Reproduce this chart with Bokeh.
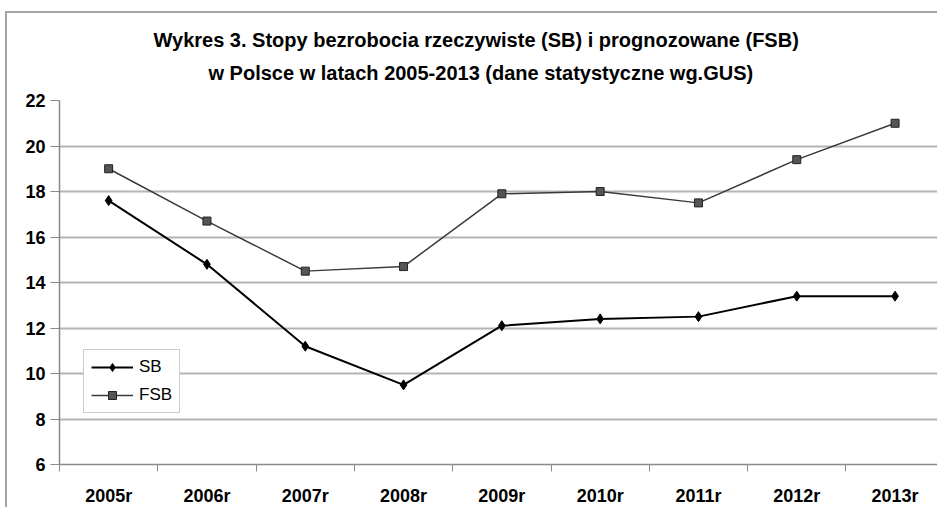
from bokeh.plotting import figure
from bokeh.models import Range1d, FixedTicker, Title, Legend, LegendItem
from bokeh.embed import file_html
from bokeh.resources import INLINE

years = ["2005r", "2006r", "2007r", "2008r", "2009r", "2010r", "2011r", "2012r", "2013r"]
sb = [17.6, 14.8, 11.2, 9.5, 12.1, 12.4, 12.5, 13.4, 13.4]
fsb = [19.0, 16.7, 14.5, 14.7, 17.9, 18.0, 17.5, 19.4, 21.0]
y_ticks = [6, 8, 10, 12, 14, 16, 18, 20, 22]

title1 = "Wykres 3. Stopy bezrobocia rzeczywiste (SB) i prognozowane (FSB)"
title2 = "w Polsce w latach 2005-2013 (dane statystyczne wg.GUS)"

xs = [i + 0.5 for i in range(len(years))]
bounds = list(range(len(years) + 1))

FONT = "Liberation Sans"

p = figure(width=932, height=496, output_backend="svg", toolbar_location=None,
           title=None,
           x_range=Range1d(0, 8.952), y_range=Range1d(6, 22),
           min_border_left=52, min_border_right=0, min_border_top=87, min_border_bottom=45,
           border_fill_color="white", background_fill_color="white",
           outline_line_color=None,
           styles={"margin-left": "5px", "margin-top": "11px",
                   "border-left": "2px solid #a4a4a4",
                   "border-top": "2px solid #a4a4a4"})

# titles (first added is closest to the frame)
t2 = Title(text=title2, align="left", offset=149, text_font=FONT, text_font_size="20px",
           text_font_style="bold", text_color="black", standoff=33)
t1 = Title(text=title1, align="left", offset=94, text_font=FONT, text_font_size="20px",
           text_font_style="bold", text_color="black", standoff=-14)
p.add_layout(t2, "above")
p.add_layout(t1, "above")

# grid
p.xgrid.grid_line_color = None
p.ygrid.ticker = FixedTicker(ticks=y_ticks)
p.ygrid.grid_line_color = "#b4b4b4"
p.ygrid.grid_line_width = 2

# y axis
p.yaxis.ticker = FixedTicker(ticks=y_ticks)
p.yaxis.axis_line_color = "#8a8a8a"
p.yaxis.axis_line_width = 1.5
p.yaxis.major_tick_line_color = "#8a8a8a"
p.yaxis.major_tick_out = 9
p.yaxis.major_tick_in = 0
p.yaxis.minor_tick_line_color = None
p.yaxis.major_label_standoff = 5
p.yaxis.major_label_text_font = FONT
p.yaxis.major_label_text_font_size = "18px"
p.yaxis.major_label_text_font_style = "bold"
p.yaxis.major_label_text_color = "black"

# x axis
p.xaxis.ticker = FixedTicker(ticks=xs, minor_ticks=bounds)
p.xaxis.major_label_overrides = {x: lab for x, lab in zip(xs, years)}
p.xaxis.axis_line_color = "#8a8a8a"
p.xaxis.axis_line_width = 1.5
p.xaxis.major_tick_line_color = None
p.xaxis.major_tick_out = 0
p.xaxis.major_tick_in = 0
p.xaxis.minor_tick_line_color = "#8a8a8a"
p.xaxis.minor_tick_out = 7
p.xaxis.minor_tick_in = 0
p.xaxis.major_label_standoff = 14
p.xaxis.major_label_text_font = FONT
p.xaxis.major_label_text_font_size = "18px"
p.xaxis.major_label_text_font_style = "bold"
p.xaxis.major_label_text_color = "black"

# series
sb_line = p.line(xs, sb, line_color="black", line_width=2)
sb_pts = p.scatter(xs, sb, marker="diamond", size=10, fill_color="black", line_color="black")
fsb_line = p.line(xs, fsb, line_color="#3a3a3a", line_width=1.5)
fsb_pts = p.scatter(xs, fsb, marker="square", size=8, fill_color="#555555", line_color="#222222")

legend = Legend(items=[LegendItem(label="SB", renderers=[sb_line, sb_pts]),
                       LegendItem(label="FSB", renderers=[fsb_line, fsb_pts])],
                location=(24, 51), border_line_color="#9a9a9a", border_line_width=1,
                background_fill_color="white", background_fill_alpha=1,
                label_text_font=FONT, label_text_font_size="17px", label_text_color="black",
                glyph_width=42, glyph_height=20, label_height=20,
                padding=7, spacing=8, label_standoff=6, margin=0)
p.add_layout(legend)

open("out.html", "w").write(file_html(p, INLINE))
